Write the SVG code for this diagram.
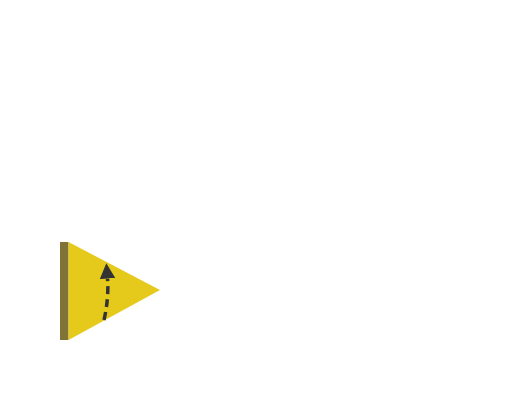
<svg xmlns="http://www.w3.org/2000/svg" width="520" height="400" viewBox="0 0 520 400">
<style>
.pole{fill:#807338}
.flag{fill:#e5ca1c}
.conn{fill:none;stroke:#333333;stroke-width:3.5;stroke-dasharray:8 5}
</style>
<defs>
<marker id="ah" viewBox="0 0 10 10" refX="0" refY="5" markerWidth="4.4" markerHeight="4.4" orient="auto" markerUnits="strokeWidth">
<path d="M0,0 L10,5 L0,10 z" fill="#333333"/>
</marker>
</defs>
<rect width="520" height="400" fill="#ffffff"/>
<g id="flag">
<rect class="pole" x="60" y="242" width="8.5" height="98"/>
<polygon class="flag" points="68.5,242 160,290 68.5,340"/>
</g>
<g id="connectors">
<path class="conn" d="M104,320 Q109,298 107.5,278.5" marker-end="url(#ah)"/>
</g>
</svg>
